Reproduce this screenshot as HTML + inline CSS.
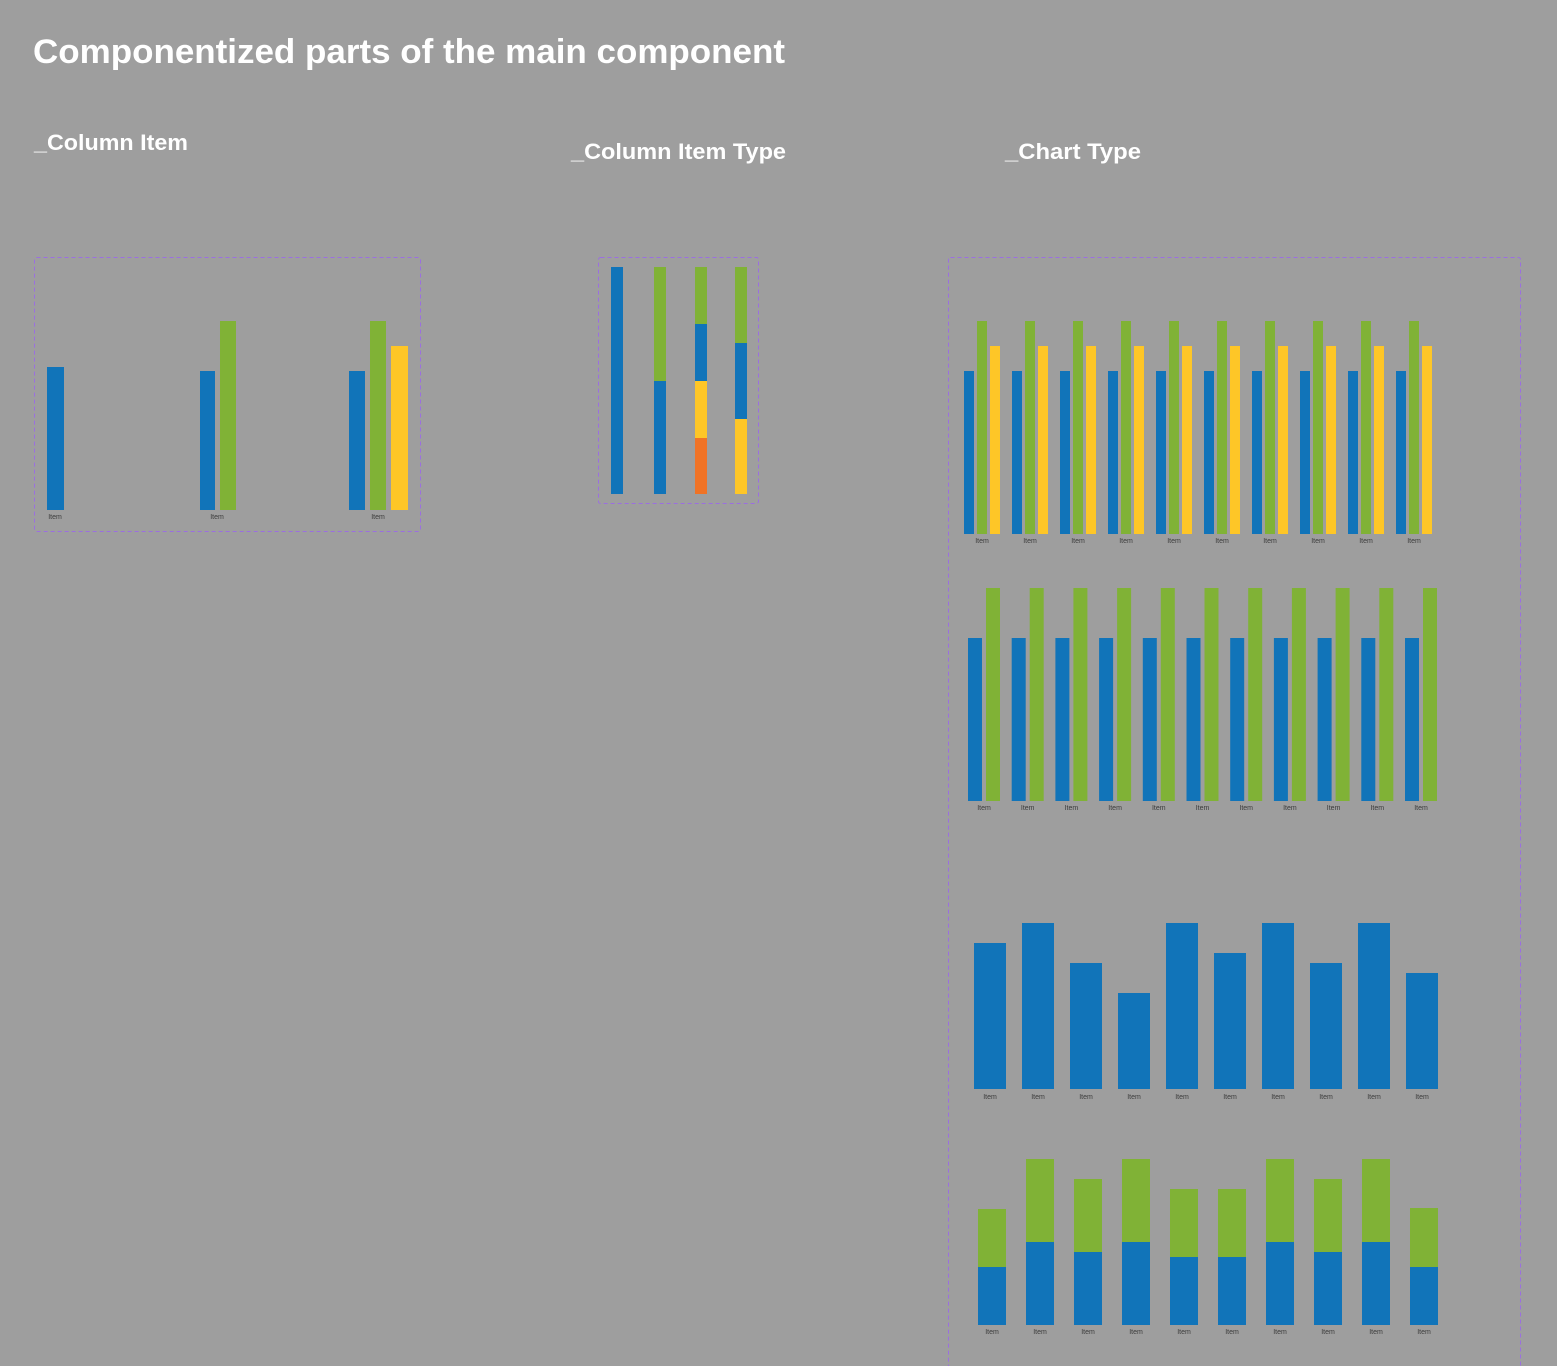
<!DOCTYPE html>
<html><head><meta charset="utf-8"><style>
html,body{margin:0;padding:0;background:#9e9e9e;}
svg{display:block;font-family:"Liberation Sans",sans-serif;}
</style></head><body>
<svg id="s" width="1557" height="1366" viewBox="0 0 1557 1366" xmlns="http://www.w3.org/2000/svg">
<rect x="0" y="0" width="1557" height="1366" fill="#9e9e9e"/>
<text x="33" y="63" fill="#fff" font-size="34" font-weight="bold" textLength="752" lengthAdjust="spacingAndGlyphs">Componentized parts of the main component</text>
<text x="34" y="150" fill="#fff" font-size="22" font-weight="bold" textLength="154" lengthAdjust="spacingAndGlyphs">_Column Item</text>
<text x="571" y="159" fill="#fff" font-size="22" font-weight="bold" textLength="215" lengthAdjust="spacingAndGlyphs">_Column Item Type</text>
<text x="1005" y="159" fill="#fff" font-size="22" font-weight="bold" textLength="136" lengthAdjust="spacingAndGlyphs">_Chart Type</text>
<rect x="34.5" y="257.5" width="386" height="274" rx="2" fill="none" stroke="#9b6fe0" stroke-dasharray="4 3"/>
<rect x="598.5" y="257.5" width="160" height="246" rx="2" fill="none" stroke="#9b6fe0" stroke-dasharray="4 3"/>
<rect x="948.5" y="257.5" width="572" height="1120" rx="2" fill="none" stroke="#9b6fe0" stroke-dasharray="4 3"/>
<g id="g"></g>
</svg>
<script>
const BLUE="#1174b9",GREEN="#80b236",YELLOW="#fec627",ORANGE="#f07326";
// Column item examples (values = bar height units)
const colItemBlue=[143,139,139];
const colItemGreen=[null,189,189];
const colItemYellow=[null,null,164];
// Column item type stacks (segment heights, bottom to top)
const typeStacks=[[{c:"blue",v:227}],[{c:"blue",v:113},{c:"green",v:114}],[{c:"orange",v:56},{c:"yellow",v:57},{c:"blue",v:57},{c:"green",v:57}],[{c:"yellow",v:75},{c:"blue",v:76},{c:"green",v:76}]];
// Chart 1: grouped 3 series
const c1Cats=["Item","Item","Item","Item","Item","Item","Item","Item","Item","Item"];
const c1Blue=[163,163,163,163,163,163,163,163,163,163];
const c1Green=[213,213,213,213,213,213,213,213,213,213];
const c1Yellow=[188,188,188,188,188,188,188,188,188,188];
// Chart 2: grouped 2 series
const c2Cats=["Item","Item","Item","Item","Item","Item","Item","Item","Item","Item","Item"];
const c2Blue=[163,163,163,163,163,163,163,163,163,163,163];
const c2Green=[213,213,213,213,213,213,213,213,213,213,213];
// Chart 3: single series
const c3Cats=["Item","Item","Item","Item","Item","Item","Item","Item","Item","Item"];
const c3Values=[146,166,126,96,166,136,166,126,166,116];
// Chart 4: stacked
const c4Cats=["Item","Item","Item","Item","Item","Item","Item","Item","Item","Item"];
const c4Blue=[58,83,73,83,68,68,83,73,83,58];
const c4Green=[58,83,73,83,68,68,83,73,83,59];

const colors={blue:BLUE,green:GREEN,yellow:YELLOW,orange:ORANGE};
const g=document.getElementById('g');
const NS="http://www.w3.org/2000/svg";
function rect(x,y,w,h,fill,name){const r=document.createElementNS(NS,'rect');r.setAttribute('x',x);r.setAttribute('y',y);r.setAttribute('width',w);r.setAttribute('height',h);r.setAttribute('fill',fill);


g.appendChild(r);}
function label(x,y,t,name){const e=document.createElementNS(NS,'text');e.setAttribute('x',x);e.setAttribute('y',y);e.setAttribute('text-anchor','middle');e.setAttribute('font-size','7');e.setAttribute('fill','#3c3c3c');e.textContent=t;


g.appendChild(e);}
function yScale(base){return v=>base-v;}

// Column item
(function(){const y=yScale(510);
const bx=[47,200,349],gx=[null,220,370],yx=[null,null,391],w=[17,15,16];
for(let i=0;i<3;i++){
 rect(bx[i],y(colItemBlue[i]),w[i],colItemBlue[i],BLUE,'column-item-blue-bar');
 if(colItemGreen[i]!=null)rect(gx[i],y(colItemGreen[i]),16,colItemGreen[i],GREEN,'column-item-green-bar');
 if(colItemYellow[i]!=null)rect(yx[i],y(colItemYellow[i]),17,colItemYellow[i],YELLOW,'column-item-yellow-bar');
 label(i==0?55:(i==1?217:378),519,"Item",'column-item-label');
}})();
// Column item type
(function(){const base=494;const xs=[611,654,695,735];
typeStacks.forEach((st,i)=>{let acc=0;st.forEach(s=>{rect(xs[i],base-acc-s.v,12,s.v,colors[s.c],'stack-segment-'+s.c);acc+=s.v;});});})();
// Chart 1
(function(){const y=yScale(534);const x=i=>964+i*48;
c1Cats.forEach((c,i)=>{rect(x(i),y(c1Blue[i]),10,c1Blue[i],BLUE,'chart1-blue-bar');rect(x(i)+13,y(c1Green[i]),10,c1Green[i],GREEN,'chart1-green-bar');rect(x(i)+26,y(c1Yellow[i]),10,c1Yellow[i],YELLOW,'chart1-yellow-bar');label(x(i)+18,543,c,'chart1-x-label');});})();
// Chart 2
(function(){const y=yScale(801);const x=i=>968+i*43.7;
c2Cats.forEach((c,i)=>{rect(x(i),y(c2Blue[i]),14,c2Blue[i],BLUE,'chart2-blue-bar');rect(x(i)+18,y(c2Green[i]),14,c2Green[i],GREEN,'chart2-green-bar');label(x(i)+16,810,c,'chart2-x-label');});})();
// Chart 3
(function(){const y=yScale(1089);const x=i=>974+i*48;
c3Cats.forEach((c,i)=>{rect(x(i),y(c3Values[i]),32,c3Values[i],BLUE,'chart3-bar');label(x(i)+16,1099,c,'chart3-x-label');});})();
// Chart 4
(function(){const y=yScale(1325);const x=i=>978+i*48;
c4Cats.forEach((c,i)=>{rect(x(i),y(c4Blue[i]),28,c4Blue[i],BLUE,'chart4-blue-segment');rect(x(i),y(c4Blue[i]+c4Green[i]),28,c4Green[i],GREEN,'chart4-green-segment');label(x(i)+14,1334,c,'chart4-x-label');});})();
</script>
</body></html>
